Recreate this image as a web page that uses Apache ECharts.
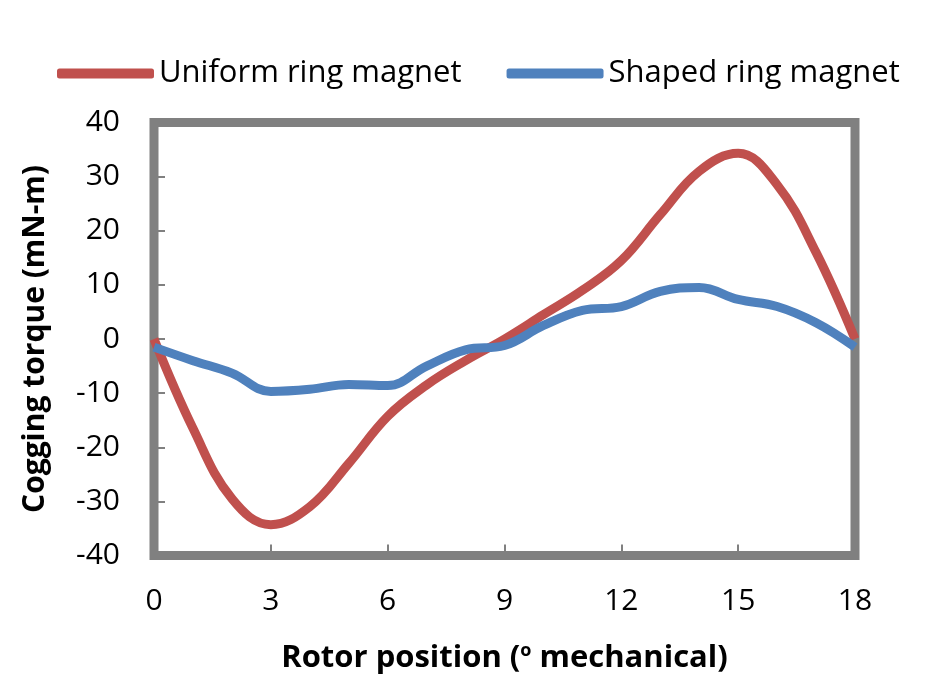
<!DOCTYPE html>
<html>
<head>
<meta charset="utf-8">
<script src="https://cdn.jsdelivr.net/npm/echarts@6/dist/echarts.min.js"></script>
<style>html,body{margin:0;padding:0;background:#fff}#c{width:946px;height:691px}</style>
</head>
<body>
<div id="c"></div>
<script>
const positions = [0,1,2,3,4,5,6,7,8,9,10,11,12,13,14,15,16,17,18];
const uniformRing = [0,-16.5,-29.5,-34.3,-31,-23,-14.3,-8.5,-4,0,4.5,9,14.5,23,31,34.3,28.5,16,0];
const shapedRing = [-1.5,-4,-6.3,-9.7,-9.3,-8.4,-8.6,-5,-2,-1.2,2.5,5.3,6,8.8,9.5,7.3,6,3,-1.5];
const xTicks = [0,3,6,9,12,15,18];
const yTicks = [-40,-30,-20,-10,0,10,20,30,40];

const font = '"Open Sans", sans-serif';
const chart = echarts.init(document.getElementById('c'));
chart.setOption({
  animation: false,
  legend: {
    left: 52, top: 53,
    itemWidth: 97, itemHeight: 10, itemGap: 45,
    icon: 'roundRect',
    textStyle: { fontFamily: font, fontSize: 31, color: '#000', padding: [0,0,0,0] },
    data: ['Uniform ring magnet', 'Shaped ring magnet']
  },
  grid: {
    left: 154, right: 91, top: 122.5, bottom: 135.5,
    show: true, borderColor: '#808080', borderWidth: 9, backgroundColor: 'transparent'
  },
  xAxis: {
    type: 'value', min: 0, max: 18, interval: 3,
    name: 'Rotor position ({sup|o} mechanical)',
    nameLocation: 'middle', nameGap: 86,
    nameTextStyle: { fontFamily: font, fontSize: 31, fontWeight: 'bold', color: '#000',
      rich: { sup: { fontFamily: font, fontSize: 18, fontWeight: 'bold', verticalAlign: 'top', padding: [0,0,16,0] } } },
    axisLine: { show: false, onZero: false },
    axisTick: { show: true, inside: true, length: 11, lineStyle: { color: '#808080', width: 2 } },
    axisLabel: { fontFamily: font, fontSize: 30, color: '#000', margin: 31 },
    splitLine: { show: false }
  },
  yAxis: {
    type: 'value', min: -40, max: 40, interval: 10,
    name: 'Cogging torque (mN-m)',
    nameLocation: 'middle', nameGap: 104, nameRotate: 90,
    nameTextStyle: { fontFamily: font, fontSize: 30, fontWeight: 'bold', color: '#000' },
    axisLine: { show: false, onZero: false },
    axisTick: { show: true, inside: true, length: 11, lineStyle: { color: '#808080', width: 2 } },
    axisLabel: { fontFamily: font, fontSize: 30, color: '#000', margin: 34 },
    splitLine: { show: false }
  },
  series: [
    { name: 'Uniform ring magnet', type: 'line', smooth: 0.4, symbol: 'none',
      data: positions.map((x,i)=>[x, uniformRing[i]]),
      lineStyle: { color: '#C0504D', width: 9 }, itemStyle: { color: '#C0504D' } },
    { name: 'Shaped ring magnet', type: 'line', smooth: 0.4, symbol: 'none',
      data: positions.map((x,i)=>[x, shapedRing[i]]),
      lineStyle: { color: '#4F81BD', width: 9 }, itemStyle: { color: '#4F81BD' } }
  ]
});
</script>
</body>
</html>
